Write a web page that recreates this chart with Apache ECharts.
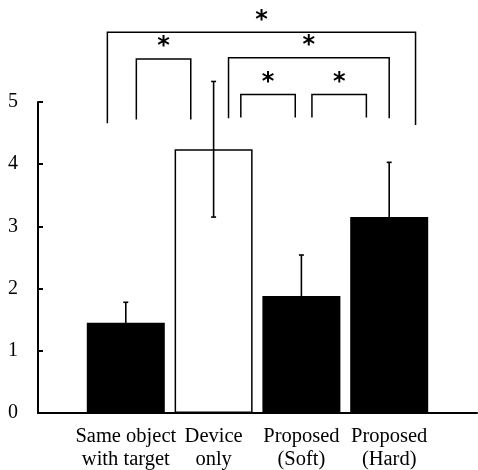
<!DOCTYPE html>
<html><head><meta charset="utf-8">
<script src="https://cdn.jsdelivr.net/npm/echarts@6/dist/echarts.min.js"></script>
<style>html,body{margin:0;padding:0;background:#fff}#c{width:478px;height:470px}</style>
</head><body><div id="c"></div>
<script>
const categories = ['Same object\nwith target', 'Device\nonly', 'Proposed\n(Soft)', 'Proposed\n(Hard)'];
const means = [1.45, 4.24, 1.88, 3.15];
const errors = [0.33, 1.09, 0.66, 0.88];
const barFills = ['#000', '#fff', '#000', '#000'];
const yTicks = [0, 1, 2, 3, 4, 5];
// significance brackets: from/to in bar-index units, top/left/right leg ends in y units
const brackets = [
  {from: -0.21, to: 3.30, top: 6.12, left: 4.66, right: 4.63},
  {from: 0.12, to: 0.74, top: 5.69, left: 4.72, right: 4.72},
  {from: 1.17, to: 3.00, top: 5.71, left: 4.74, right: 4.74},
  {from: 1.31, to: 1.93, top: 5.12, left: 4.75, right: 4.75},
  {from: 2.12, to: 2.74, top: 5.12, left: 4.75, right: 4.75}
];

const axisCats = [' '].concat(categories, ['  ']);
const serif = 'Liberation Serif';
const chart = echarts.init(document.getElementById('c'), null, {renderer: 'canvas'});
function catX(api, v) {
  const a = api.coord([0, 0])[0], b = api.coord([1, 0])[0];
  return a + (v + 1) * (b - a);
}
chart.setOption({
  animation: false,
  backgroundColor: '#fff',
  grid: {left: 38, right: 1, top: 102, bottom: 57, containLabel: false, outerBoundsMode: 'none'},
  xAxis: {
    type: 'category', data: axisCats, boundaryGap: false,
    axisLine: {lineStyle: {color: '#000', width: 2}},
    axisTick: {show: false},
    axisLabel: {interval: 0, color: '#000', fontFamily: serif, fontSize: 20.5, lineHeight: 23, margin: 12}
  },
  yAxis: {
    type: 'value', min: yTicks[0], max: yTicks[yTicks.length - 1], interval: 1,
    splitLine: {show: false},
    axisLine: {show: true, lineStyle: {color: '#000', width: 2}},
    axisTick: {show: true, inside: true, length: 5, lineStyle: {color: '#000', width: 2}},
    axisLabel: {color: '#000', fontFamily: serif, fontSize: 20, margin: 20}
  },
  series: [
    {
      type: 'bar', barWidth: 78,
      data: ['-'].concat(means.map((m, i) => ({
        value: m,
        itemStyle: {color: barFills[i], borderColor: '#000', borderWidth: barFills[i] === '#fff' ? 1.5 : 0}
      })), ['-'])
    },
    {
      type: 'custom', z: 5, clip: false,
      data: means.map((m, i) => [i + 1, m]),
      renderItem: function (params, api) {
        const i = params.dataIndex;
        const x = catX(api, i);
        const yH = api.coord([0, means[i] + errors[i]])[1];
        const yL = api.coord([0, means[i] - errors[i]])[1];
        const st = {stroke: '#000', lineWidth: 1.6};
        return {type: 'group', children: [
          {type: 'line', shape: {x1: x, y1: yH, x2: x, y2: yL}, style: st},
          {type: 'line', shape: {x1: x - 2.5, y1: yH, x2: x + 2.5, y2: yH}, style: st},
          {type: 'line', shape: {x1: x - 2.5, y1: yL, x2: x + 2.5, y2: yL}, style: st}
        ]};
      }
    },
    {
      type: 'custom', z: 6, clip: false,
      data: brackets.map((b, i) => [0, b.top]),
      renderItem: function (params, api) {
        const b = brackets[params.dataIndex];
        const x1 = catX(api, b.from), x2 = catX(api, b.to);
        const yT = api.coord([0, b.top])[1];
        const yL = api.coord([0, b.left])[1];
        const yR = api.coord([0, b.right])[1];
        return {type: 'group', children: [
          {type: 'polyline', shape: {points: [[x1, yL], [x1, yT], [x2, yT], [x2, yR]]},
           style: {stroke: '#000', lineWidth: 1.5, fill: null}},
          {type: 'text', x: (x1 + x2) / 2, y: yT - 12,
           style: {text: '*', fill: '#000', font: 'bold 24px "DejaVu Sans"', align: 'center', verticalAlign: 'middle'}}
        ]};
      }
    }
  ]
});
</script></body></html>
